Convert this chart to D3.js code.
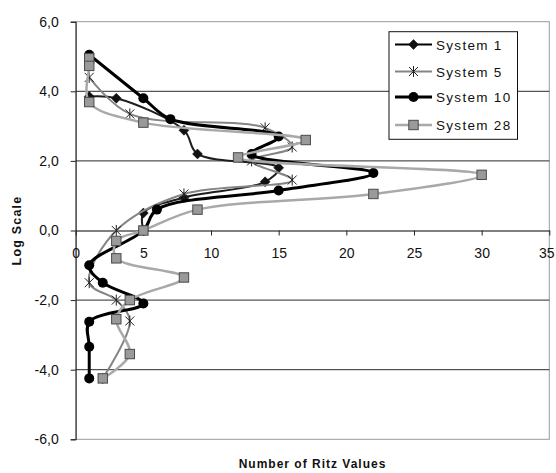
<!DOCTYPE html>
<html>
<head>
<meta charset="utf-8">
<script src="https://cdn.jsdelivr.net/npm/d3@7"></script>
<style>
  body { margin: 0; background: #fff; }
  svg { display: block; }
  text { font-family: Arial, "Liberation Sans", sans-serif; fill: #111; }
</style>
</head>
<body>
<svg id="chart" width="556" height="473"></svg>
<script>
// ---- data ----
const seriesNames = ["System 1", "System 5", "System 10", "System 28"];
const sys1X  = [1, 3, 8, 9, 15, 14, 8, 5, 5];
const sys1Y  = [3.85, 3.8, 2.88, 2.2, 1.8, 1.4, 0.95, 0.5, 0.0];
const sys5X  = [1, 4, 14, 16, 13, 16, 8, 3, 1, 3, 4, 2];
const sys5Y  = [4.4, 3.35, 2.95, 2.4, 2.0, 1.45, 1.05, 0.0, -1.5, -2.0, -2.6, -4.25];
const sys10X = [1, 5, 7, 15, 13, 22, 15, 6, 5, 1, 2, 5, 1, 1, 1];
const sys10Y = [5.05, 3.8, 3.2, 2.7, 2.2, 1.65, 1.15, 0.6, 0.0, -1.0, -1.5, -2.1, -2.62, -3.34, -4.25];
const sys28X = [1, 1, 1, 5, 17, 12, 30, 22, 9, 5, 3, 3, 8, 4, 3, 4, 2];
const sys28Y = [4.95, 4.73, 3.69, 3.1, 2.6, 2.1, 1.6, 1.05, 0.6, 0.0, -0.3, -0.8, -1.35, -2.0, -2.55, -3.55, -4.25];
const xTicks = [0, 5, 10, 15, 20, 25, 30, 35];
const xTickLabels = ["0", "5", "10", "15", "20", "25", "30", "35"];
const yTicks = [6, 4, 2, 0, -2, -4, -6];
const yTickLabels = ["6,0", "4,0", "2,0", "0,0", "-2,0", "-4,0", "-6,0"];
const xTitle = "Number of Ritz Values";
const yTitle = "Log Scale";

// ---- layout ----
const svg = d3.select("#chart");
const L = 75.7, R = 549.3, T = 21.7, B = 439.3;
const x = d3.scaleLinear().domain([0, 35]).range([L, R]);
const y = d3.scaleLinear().domain([-6, 6]).range([B, T]);

const styles = [
  { stroke: "#1e1e1e", width: 2,   marker: "diamond" },
  { stroke: "#858585", width: 2,   marker: "star" },
  { stroke: "#000000", width: 3,   marker: "circle" },
  { stroke: "#a9a9a9", width: 2.5, marker: "square" }
];
const seriesData = [
  d3.zip(sys1X, sys1Y), d3.zip(sys5X, sys5Y), d3.zip(sys10X, sys10Y), d3.zip(sys28X, sys28Y)
];

// plot area border
svg.append("rect").attr("x", L).attr("y", T).attr("width", R - L).attr("height", B - T)
  .attr("fill", "#fff").attr("stroke", "#9a9a9a").attr("stroke-width", 1);

// gridlines
svg.append("g").selectAll("line").data(yTicks.filter(v => v !== 6 && v !== -6 && v !== 0)).join("line")
  .attr("x1", L).attr("x2", R).attr("y1", d => y(d)).attr("y2", d => y(d))
  .attr("stroke", "#2a2a2a").attr("stroke-width", 1);

// y axis
const yAxis = svg.append("g").attr("transform", `translate(${L},0)`)
  .call(d3.axisLeft(y).tickValues(yTicks).tickFormat((d, i) => yTickLabels[i]).tickSize(5).tickPadding(12));
yAxis.select(".domain").attr("stroke", "#222");
yAxis.selectAll(".tick line").attr("stroke", "#222");
yAxis.selectAll("text").attr("font-size", 14).attr("fill", "#222").attr("font-family", "Arial, 'Liberation Sans', sans-serif");

// x axis at y=0
const xAxis = svg.append("g").attr("transform", `translate(0,${y(0)})`)
  .call(d3.axisBottom(x).tickValues(xTicks).tickFormat((d, i) => xTickLabels[i]).tickSize(5).tickPadding(12.5).tickSizeOuter(0));
xAxis.select(".domain").attr("stroke", "#000");
xAxis.selectAll(".tick line").attr("stroke", "#222");
xAxis.selectAll("text").attr("font-size", 14).attr("fill", "#222").attr("font-family", "Arial, 'Liberation Sans', sans-serif")
  .attr("dx", (d, i) => i === xTicks.length - 1 ? -3 : 0);

// axis titles
svg.append("text").attr("x", (L + R) / 2).attr("y", 468).attr("text-anchor", "middle")
  .attr("font-size", 12).attr("font-weight", "bold").style("letter-spacing", "1px").text(xTitle);
svg.append("text").attr("transform", `translate(21,${y(0)}) rotate(-90)`).attr("text-anchor", "middle")
  .attr("font-size", 12.5).attr("font-weight", "bold").style("letter-spacing", "1.2px").text(yTitle);

// markers
function drawMarker(g, type) {
  if (type === "diamond") {
    g.append("path").attr("d", "M0,-5L5,0L0,5L-5,0Z").attr("fill", "#111").attr("stroke", "#111").attr("stroke-width", 0.5);
  } else if (type === "star") {
    g.append("path").attr("d", "M0,-5.5V5.5M-4.5,-4.5L4.5,4.5M-4.5,4.5L4.5,-4.5")
      .attr("stroke", "#222").attr("stroke-width", 1).attr("fill", "none");
  } else if (type === "circle") {
    g.append("circle").attr("r", 5).attr("fill", "#000");
  } else if (type === "square") {
    g.append("rect").attr("x", -4.7).attr("y", -4.7).attr("width", 9.4).attr("height", 9.4)
      .attr("fill", "#9a9a9a").attr("stroke", "#4a4a4a").attr("stroke-width", 1);
  }
}

const line = d3.line().x(d => x(d[0])).y(d => y(d[1])).curve(d3.curveCatmullRom.alpha(0.5));

seriesData.forEach((data, i) => {
  const s = styles[i];
  const g = svg.append("g").attr("class", "series");
  g.append("path").datum(data).attr("d", line).attr("fill", "none")
    .attr("stroke", s.stroke).attr("stroke-width", s.width).attr("stroke-linejoin", "round");
  g.selectAll("g.m").data(data).join("g").attr("class", "m")
    .attr("transform", d => `translate(${x(d[0])},${y(d[1])})`)
    .each(function () { drawMarker(d3.select(this), s.marker); });
});

// legend
const lg = svg.append("g");
lg.append("rect").attr("x", 389).attr("y", 31.7).attr("width", 128.5).attr("height", 107.6)
  .attr("fill", "#fff").attr("stroke", "#111").attr("stroke-width", 1);
const legendY = [44.5, 71.5, 97, 125];
const legendLineColors = ["#000", "#858585", "#000", "#a9a9a9"];
seriesNames.forEach((name, i) => {
  const row = lg.append("g").attr("transform", `translate(0,${legendY[i]})`);
  row.append("line").attr("x1", 395).attr("x2", 432).attr("y1", 0).attr("y2", 0)
    .attr("stroke", legendLineColors[i]).attr("stroke-width", styles[i].width);
  drawMarker(row.append("g").attr("transform", "translate(413.5,0)"), styles[i].marker);
  row.append("text").attr("x", 436).attr("y", 5).attr("font-size", 13.5)
    .style("letter-spacing", "1.3px").attr("fill", "#111").text(name);
});
</script>
</body>
</html>
